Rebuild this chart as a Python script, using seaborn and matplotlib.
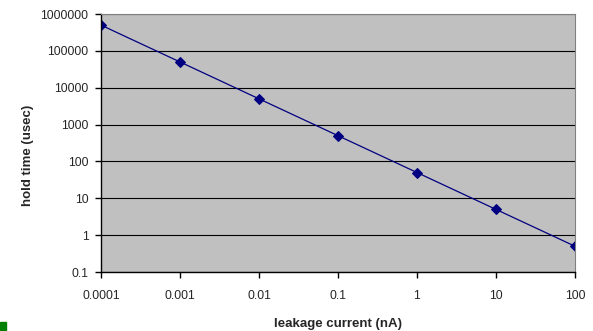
import matplotlib
matplotlib.use("Agg")
import matplotlib.pyplot as plt
import matplotlib.ticker as mticker
import pandas as pd
import seaborn as sns

leakage_na = [0.0001, 0.001, 0.01, 0.1, 1, 10, 100]
hold_time_us = [500000, 50000, 5000, 500, 50, 5, 0.5]
x_ticks = [0.0001, 0.001, 0.01, 0.1, 1, 10, 100]
x_tick_labels = ["0.0001", "0.001", "0.01", "0.1", "1", "10", "100"]
y_ticks = [0.1, 1, 10, 100, 1000, 10000, 100000, 1000000]
y_tick_labels = ["0.1", "1", "10", "100", "1000", "10000", "100000", "1000000"]

df = pd.DataFrame({"leakage": leakage_na, "hold": hold_time_us})

sns.set_style("white")
plt.rcParams["font.family"] = ["Liberation Sans", "DejaVu Sans"]

fig = plt.figure(figsize=(5.93, 3.31), dpi=100)
ax = fig.add_axes([0.1703, 0.1782, 0.7993, 0.7795])
ax.set_facecolor("#c0c0c0")

sns.lineplot(data=df, x="leakage", y="hold", ax=ax, color="#000080",
             linewidth=0.9, marker="D", markersize=5, markeredgecolor="#000080")

ax.set_xscale("log")
ax.set_yscale("log")
ax.set_xlim(0.0001, 100)
ax.set_ylim(0.1, 1000000)
ax.set_xticks(x_ticks)
ax.set_xticklabels(x_tick_labels, fontsize=8.7)
ax.set_yticks(y_ticks)
ax.set_yticklabels(y_tick_labels, fontsize=8.7)
ax.xaxis.set_minor_locator(mticker.NullLocator())
ax.yaxis.set_minor_locator(mticker.NullLocator())
ax.tick_params(axis="x", direction="out", length=4, width=1, color="black",
               pad=9, bottom=True)
ax.tick_params(axis="y", direction="out", length=4, width=1, color="black",
               pad=5, left=True)
ax.grid(axis="y", color="black", linewidth=0.8)
ax.set_axisbelow(True)

for side in ["left", "bottom"]:
    ax.spines[side].set_color("black")
    ax.spines[side].set_linewidth(1)
ax.spines["top"].set_color("#808080")
ax.spines["right"].set_color("#808080")

ax.set_xlabel("leakage current (nA)", fontsize=9.5, fontweight="bold")
ax.set_ylabel("hold time (usec)", fontsize=9.5, fontweight="bold")
ax.xaxis.set_label_coords(0.5, -0.2016)
ax.yaxis.set_label_coords(-0.154, 0.453)
ax.xaxis.label.set_va("center")
ax.yaxis.label.set_va("center")

# small green legend key left in the corner
fig.patches.append(plt.Rectangle((0, 1 / 331), 6 / 593, 8 / 331,
                                 transform=fig.transFigure, color="#008000"))

fig.savefig("out.png", dpi=100)
